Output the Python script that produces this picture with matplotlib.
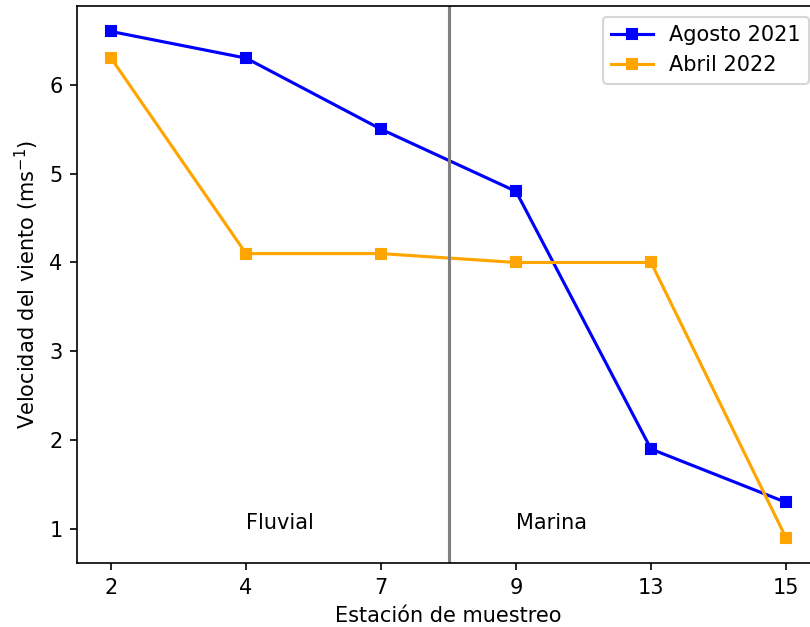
import matplotlib
matplotlib.use("Agg")
import matplotlib.pyplot as plt

# Estaciones de muestreo y velocidad media del viento por campaña
estaciones = ["2", "4", "7", "9", "13", "15"]
agosto_2021 = [6.6, 6.3, 5.5, 4.8, 1.9, 1.3]
abril_2022 = [6.3, 4.1, 4.1, 4.0, 4.0, 0.9]

x = list(range(len(estaciones)))

fig = plt.figure(figsize=(5.4, 4.18), dpi=150)
ax = fig.add_axes([0.0954, 0.1017, 0.9167, 0.8885])

ax.plot(x, agosto_2021, marker="s", markersize=5, color="blue", label="Agosto 2021")
ax.plot(x, abril_2022, marker="s", markersize=5, color="orange", label="Abril 2022")

# separación entre zona fluvial y marina
ax.axvline(2.5, color="gray", linewidth=1.5)
ax.text(1, 1.0, "Fluvial")
ax.text(3, 1.0, "Marina")

ax.set_xticks(x)
ax.set_xticklabels(estaciones)
ax.set_xlabel("Estación de muestreo")
ax.set_ylabel("Velocidad del viento (ms$^{-1}$)")
ax.legend(loc="upper right")

fig.savefig("out.png", dpi=150)
